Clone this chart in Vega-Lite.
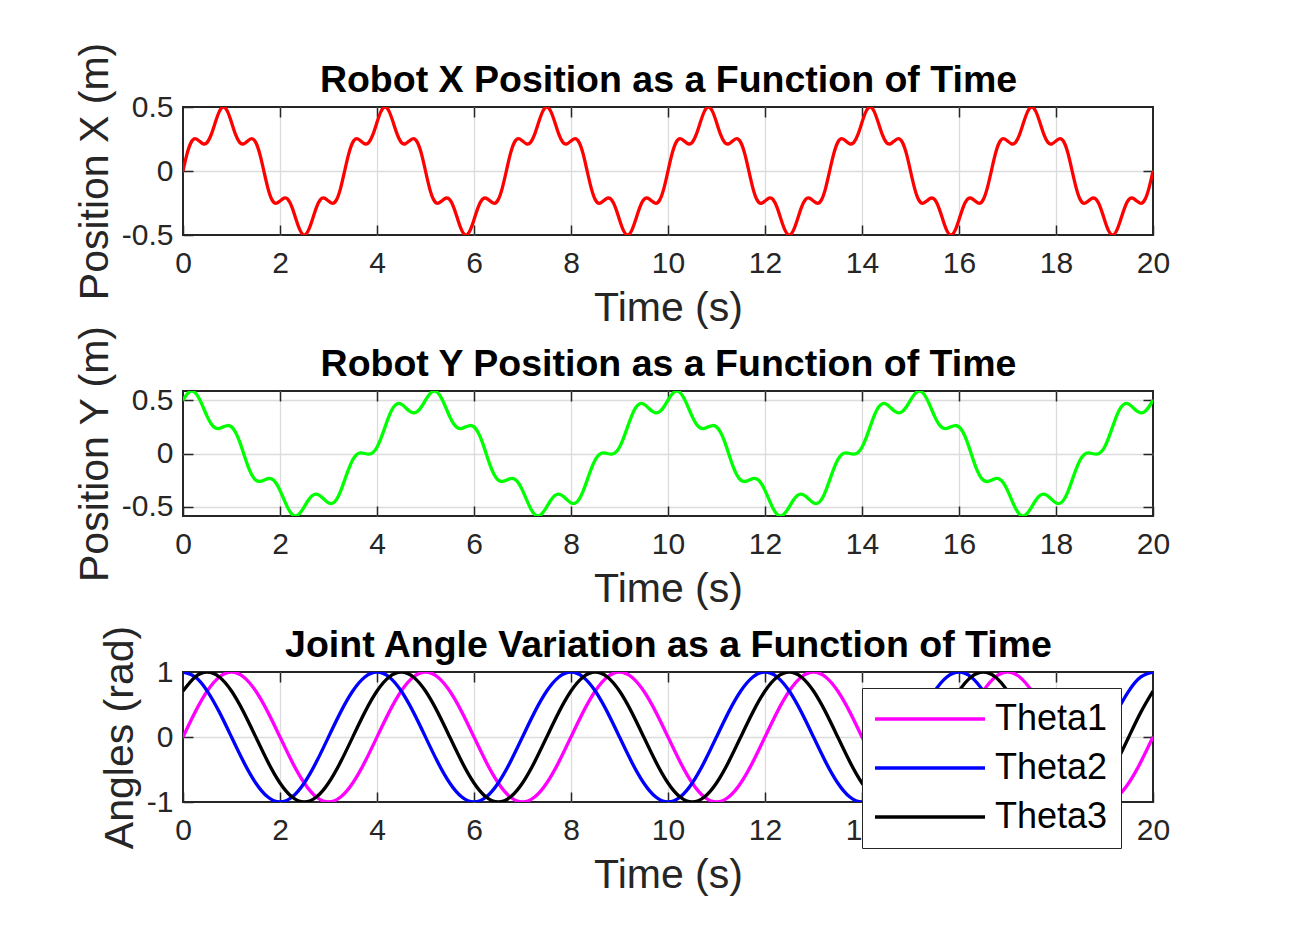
{
  "$schema": "https://vega.github.io/schema/vega-lite/v6.json",
  "background": "white",
  "padding": {"left": 73, "top": 41, "right": 10, "bottom": 10},
  "bounds": "flush",
  "spacing": 156,
  "config": {
    "font": "Liberation Sans",
    "view": {"stroke": "#262626", "strokeWidth": 2},
    "axis": {
      "labelFont": "Liberation Sans", "labelFontSize": 30, "labelColor": "#262626",
      "titleFont": "Liberation Sans", "titleFontSize": 41, "titleFontWeight": "normal", "titleColor": "#262626",
      "domain": false, "tickColor": "#262626", "tickSize": -10, "tickWidth": 1.5,
      "gridColor": "#dcdcdc", "gridWidth": 1.3, "gridOpacity": 1,
      "labelFlush": false, "labelOverlap": false, "labelBound": false, "titleLimit": 2000
    },
    "axisX": {"labelPadding": 23, "titlePadding": 10},
    "axisY": {"labelPadding": 20, "titlePadding": 5}
  },
  "datasets": {
    "pos": [
{"t":0,"x":0,"y":0.5},{"t":0.083,"x":0.1333,"y":0.556},{"t":0.167,"x":0.2236,"y":0.5842},{"t":0.25,"x":0.2523,"y":0.5706},{"t":0.333,"x":0.2351,"y":0.5156},{"t":0.417,"x":0.2121,"y":0.433},{"t":0.5,"x":0.2236,"y":0.3457},{"t":0.583,"x":0.2857,"y":0.2765},{"t":0.667,"x":0.3804,"y":0.2395},{"t":0.75,"x":0.4658,"y":0.2351},{"t":0.833,"x":0.5,"y":0.25},{"t":0.917,"x":0.4658,"y":0.2622},
{"t":1,"x":0.3804,"y":0.2496},{"t":1.083,"x":0.2857,"y":0.1991},{"t":1.167,"x":0.2236,"y":0.111},{"t":1.25,"x":0.2121,"y":0},{"t":1.333,"x":0.2351,"y":-0.111},{"t":1.417,"x":0.2523,"y":-0.1991},{"t":1.5,"x":0.2236,"y":-0.2496},{"t":1.583,"x":0.1333,"y":-0.2622},{"t":1.667,"x":0,"y":-0.25},{"t":1.75,"x":-0.1333,"y":-0.2351},{"t":1.833,"x":-0.2236,"y":-0.2395},{"t":1.917,"x":-0.2523,"y":-0.2765},
{"t":2,"x":-0.2351,"y":-0.3457},{"t":2.083,"x":-0.2121,"y":-0.433},{"t":2.167,"x":-0.2236,"y":-0.5156},{"t":2.25,"x":-0.2857,"y":-0.5706},{"t":2.333,"x":-0.3804,"y":-0.5842},{"t":2.417,"x":-0.4658,"y":-0.556},{"t":2.5,"x":-0.5,"y":-0.5},{"t":2.583,"x":-0.4658,"y":-0.4385},{"t":2.667,"x":-0.3804,"y":-0.394},{"t":2.75,"x":-0.2857,"y":-0.3804},{"t":2.833,"x":-0.2236,"y":-0.398},{"t":2.917,"x":-0.2121,"y":-0.433},
{"t":3,"x":-0.2351,"y":-0.4633},{"t":3.083,"x":-0.2523,"y":-0.4667},{"t":3.167,"x":-0.2236,"y":-0.4297},{"t":3.25,"x":-0.1333,"y":-0.3527},{"t":3.333,"x":0,"y":-0.25},{"t":3.417,"x":0.1333,"y":-0.1446},{"t":3.5,"x":0.2236,"y":-0.0594},{"t":3.583,"x":0.2523,"y":-0.0089},{"t":3.667,"x":0.2351,"y":0.0065},{"t":3.75,"x":0.2121,"y":0},{"t":3.833,"x":0.2236,"y":-0.0065},{"t":3.917,"x":0.2857,"y":0.0089},
{"t":4,"x":0.3804,"y":0.0594},{"t":4.083,"x":0.4658,"y":0.1446},{"t":4.167,"x":0.5,"y":0.25},{"t":4.25,"x":0.4658,"y":0.3527},{"t":4.333,"x":0.3804,"y":0.4297},{"t":4.417,"x":0.2857,"y":0.4667},{"t":4.5,"x":0.2236,"y":0.4633},{"t":4.583,"x":0.2121,"y":0.433},{"t":4.667,"x":0.2351,"y":0.398},{"t":4.75,"x":0.2523,"y":0.3804},{"t":4.833,"x":0.2236,"y":0.394},{"t":4.917,"x":0.1333,"y":0.4385},
{"t":5,"x":0,"y":0.5},{"t":5.083,"x":-0.1333,"y":0.556},{"t":5.167,"x":-0.2236,"y":0.5842},{"t":5.25,"x":-0.2523,"y":0.5706},{"t":5.333,"x":-0.2351,"y":0.5156},{"t":5.417,"x":-0.2121,"y":0.433},{"t":5.5,"x":-0.2236,"y":0.3457},{"t":5.583,"x":-0.2857,"y":0.2765},{"t":5.667,"x":-0.3804,"y":0.2395},{"t":5.75,"x":-0.4658,"y":0.2351},{"t":5.833,"x":-0.5,"y":0.25},{"t":5.917,"x":-0.4658,"y":0.2622},
{"t":6,"x":-0.3804,"y":0.2496},{"t":6.083,"x":-0.2857,"y":0.1991},{"t":6.167,"x":-0.2236,"y":0.111},{"t":6.25,"x":-0.2121,"y":0},{"t":6.333,"x":-0.2351,"y":-0.111},{"t":6.417,"x":-0.2523,"y":-0.1991},{"t":6.5,"x":-0.2236,"y":-0.2496},{"t":6.583,"x":-0.1333,"y":-0.2622},{"t":6.667,"x":0,"y":-0.25},{"t":6.75,"x":0.1333,"y":-0.2351},{"t":6.833,"x":0.2236,"y":-0.2395},{"t":6.917,"x":0.2523,"y":-0.2765},
{"t":7,"x":0.2351,"y":-0.3457},{"t":7.083,"x":0.2121,"y":-0.433},{"t":7.167,"x":0.2236,"y":-0.5156},{"t":7.25,"x":0.2857,"y":-0.5706},{"t":7.333,"x":0.3804,"y":-0.5842},{"t":7.417,"x":0.4658,"y":-0.556},{"t":7.5,"x":0.5,"y":-0.5},{"t":7.583,"x":0.4658,"y":-0.4385},{"t":7.667,"x":0.3804,"y":-0.394},{"t":7.75,"x":0.2857,"y":-0.3804},{"t":7.833,"x":0.2236,"y":-0.398},{"t":7.917,"x":0.2121,"y":-0.433},
{"t":8,"x":0.2351,"y":-0.4633},{"t":8.083,"x":0.2523,"y":-0.4667},{"t":8.167,"x":0.2236,"y":-0.4297},{"t":8.25,"x":0.1333,"y":-0.3527},{"t":8.333,"x":0,"y":-0.25},{"t":8.417,"x":-0.1333,"y":-0.1446},{"t":8.5,"x":-0.2236,"y":-0.0594},{"t":8.583,"x":-0.2523,"y":-0.0089},{"t":8.667,"x":-0.2351,"y":0.0065},{"t":8.75,"x":-0.2121,"y":0},{"t":8.833,"x":-0.2236,"y":-0.0065},{"t":8.917,"x":-0.2857,"y":0.0089},
{"t":9,"x":-0.3804,"y":0.0594},{"t":9.083,"x":-0.4658,"y":0.1446},{"t":9.167,"x":-0.5,"y":0.25},{"t":9.25,"x":-0.4658,"y":0.3527},{"t":9.333,"x":-0.3804,"y":0.4297},{"t":9.417,"x":-0.2857,"y":0.4667},{"t":9.5,"x":-0.2236,"y":0.4633},{"t":9.583,"x":-0.2121,"y":0.433},{"t":9.667,"x":-0.2351,"y":0.398},{"t":9.75,"x":-0.2523,"y":0.3804},{"t":9.833,"x":-0.2236,"y":0.394},{"t":9.917,"x":-0.1333,"y":0.4385},
{"t":10,"x":0,"y":0.5},{"t":10.083,"x":0.1333,"y":0.556},{"t":10.167,"x":0.2236,"y":0.5842},{"t":10.25,"x":0.2523,"y":0.5706},{"t":10.333,"x":0.2351,"y":0.5156},{"t":10.417,"x":0.2121,"y":0.433},{"t":10.5,"x":0.2236,"y":0.3457},{"t":10.583,"x":0.2857,"y":0.2765},{"t":10.667,"x":0.3804,"y":0.2395},{"t":10.75,"x":0.4658,"y":0.2351},{"t":10.833,"x":0.5,"y":0.25},{"t":10.917,"x":0.4658,"y":0.2622},
{"t":11,"x":0.3804,"y":0.2496},{"t":11.083,"x":0.2857,"y":0.1991},{"t":11.167,"x":0.2236,"y":0.111},{"t":11.25,"x":0.2121,"y":0},{"t":11.333,"x":0.2351,"y":-0.111},{"t":11.417,"x":0.2523,"y":-0.1991},{"t":11.5,"x":0.2236,"y":-0.2496},{"t":11.583,"x":0.1333,"y":-0.2622},{"t":11.667,"x":0,"y":-0.25},{"t":11.75,"x":-0.1333,"y":-0.2351},{"t":11.833,"x":-0.2236,"y":-0.2395},{"t":11.917,"x":-0.2523,"y":-0.2765},
{"t":12,"x":-0.2351,"y":-0.3457},{"t":12.083,"x":-0.2121,"y":-0.433},{"t":12.167,"x":-0.2236,"y":-0.5156},{"t":12.25,"x":-0.2857,"y":-0.5706},{"t":12.333,"x":-0.3804,"y":-0.5842},{"t":12.417,"x":-0.4658,"y":-0.556},{"t":12.5,"x":-0.5,"y":-0.5},{"t":12.583,"x":-0.4658,"y":-0.4385},{"t":12.667,"x":-0.3804,"y":-0.394},{"t":12.75,"x":-0.2857,"y":-0.3804},{"t":12.833,"x":-0.2236,"y":-0.398},{"t":12.917,"x":-0.2121,"y":-0.433},
{"t":13,"x":-0.2351,"y":-0.4633},{"t":13.083,"x":-0.2523,"y":-0.4667},{"t":13.167,"x":-0.2236,"y":-0.4297},{"t":13.25,"x":-0.1333,"y":-0.3527},{"t":13.333,"x":0,"y":-0.25},{"t":13.417,"x":0.1333,"y":-0.1446},{"t":13.5,"x":0.2236,"y":-0.0594},{"t":13.583,"x":0.2523,"y":-0.0089},{"t":13.667,"x":0.2351,"y":0.0065},{"t":13.75,"x":0.2121,"y":0},{"t":13.833,"x":0.2236,"y":-0.0065},{"t":13.917,"x":0.2857,"y":0.0089},
{"t":14,"x":0.3804,"y":0.0594},{"t":14.083,"x":0.4658,"y":0.1446},{"t":14.167,"x":0.5,"y":0.25},{"t":14.25,"x":0.4658,"y":0.3527},{"t":14.333,"x":0.3804,"y":0.4297},{"t":14.417,"x":0.2857,"y":0.4667},{"t":14.5,"x":0.2236,"y":0.4633},{"t":14.583,"x":0.2121,"y":0.433},{"t":14.667,"x":0.2351,"y":0.398},{"t":14.75,"x":0.2523,"y":0.3804},{"t":14.833,"x":0.2236,"y":0.394},{"t":14.917,"x":0.1333,"y":0.4385},
{"t":15,"x":0,"y":0.5},{"t":15.083,"x":-0.1333,"y":0.556},{"t":15.167,"x":-0.2236,"y":0.5842},{"t":15.25,"x":-0.2523,"y":0.5706},{"t":15.333,"x":-0.2351,"y":0.5156},{"t":15.417,"x":-0.2121,"y":0.433},{"t":15.5,"x":-0.2236,"y":0.3457},{"t":15.583,"x":-0.2857,"y":0.2765},{"t":15.667,"x":-0.3804,"y":0.2395},{"t":15.75,"x":-0.4658,"y":0.2351},{"t":15.833,"x":-0.5,"y":0.25},{"t":15.917,"x":-0.4658,"y":0.2622},
{"t":16,"x":-0.3804,"y":0.2496},{"t":16.083,"x":-0.2857,"y":0.1991},{"t":16.167,"x":-0.2236,"y":0.111},{"t":16.25,"x":-0.2121,"y":0},{"t":16.333,"x":-0.2351,"y":-0.111},{"t":16.417,"x":-0.2523,"y":-0.1991},{"t":16.5,"x":-0.2236,"y":-0.2496},{"t":16.583,"x":-0.1333,"y":-0.2622},{"t":16.667,"x":0,"y":-0.25},{"t":16.75,"x":0.1333,"y":-0.2351},{"t":16.833,"x":0.2236,"y":-0.2395},{"t":16.917,"x":0.2523,"y":-0.2765},
{"t":17,"x":0.2351,"y":-0.3457},{"t":17.083,"x":0.2121,"y":-0.433},{"t":17.167,"x":0.2236,"y":-0.5156},{"t":17.25,"x":0.2857,"y":-0.5706},{"t":17.333,"x":0.3804,"y":-0.5842},{"t":17.417,"x":0.4658,"y":-0.556},{"t":17.5,"x":0.5,"y":-0.5},{"t":17.583,"x":0.4658,"y":-0.4385},{"t":17.667,"x":0.3804,"y":-0.394},{"t":17.75,"x":0.2857,"y":-0.3804},{"t":17.833,"x":0.2236,"y":-0.398},{"t":17.917,"x":0.2121,"y":-0.433},
{"t":18,"x":0.2351,"y":-0.4633},{"t":18.083,"x":0.2523,"y":-0.4667},{"t":18.167,"x":0.2236,"y":-0.4297},{"t":18.25,"x":0.1333,"y":-0.3527},{"t":18.333,"x":0,"y":-0.25},{"t":18.417,"x":-0.1333,"y":-0.1446},{"t":18.5,"x":-0.2236,"y":-0.0594},{"t":18.583,"x":-0.2523,"y":-0.0089},{"t":18.667,"x":-0.2351,"y":0.0065},{"t":18.75,"x":-0.2121,"y":0},{"t":18.833,"x":-0.2236,"y":-0.0065},{"t":18.917,"x":-0.2857,"y":0.0089},
{"t":19,"x":-0.3804,"y":0.0594},{"t":19.083,"x":-0.4658,"y":0.1446},{"t":19.167,"x":-0.5,"y":0.25},{"t":19.25,"x":-0.4658,"y":0.3527},{"t":19.333,"x":-0.3804,"y":0.4297},{"t":19.417,"x":-0.2857,"y":0.4667},{"t":19.5,"x":-0.2236,"y":0.4633},{"t":19.583,"x":-0.2121,"y":0.433},{"t":19.667,"x":-0.2351,"y":0.398},{"t":19.75,"x":-0.2523,"y":0.3804},{"t":19.833,"x":-0.2236,"y":0.394},{"t":19.917,"x":-0.1333,"y":0.4385},
{"t":20,"x":0,"y":0.5}
    ],
    "ang": [
{"t":0,"j":"Theta1","a":0},{"t":0.25,"j":"Theta1","a":0.3827},{"t":0.5,"j":"Theta1","a":0.7071},{"t":0.75,"j":"Theta1","a":0.9239},{"t":1,"j":"Theta1","a":1},{"t":1.25,"j":"Theta1","a":0.9239},{"t":1.5,"j":"Theta1","a":0.7071},{"t":1.75,"j":"Theta1","a":0.3827},{"t":2,"j":"Theta1","a":0},{"t":2.25,"j":"Theta1","a":-0.3827},{"t":2.5,"j":"Theta1","a":-0.7071},{"t":2.75,"j":"Theta1","a":-0.9239},{"t":3,"j":"Theta1","a":-1},{"t":3.25,"j":"Theta1","a":-0.9239},{"t":3.5,"j":"Theta1","a":-0.7071},{"t":3.75,"j":"Theta1","a":-0.3827},
{"t":4,"j":"Theta1","a":0},{"t":4.25,"j":"Theta1","a":0.3827},{"t":4.5,"j":"Theta1","a":0.7071},{"t":4.75,"j":"Theta1","a":0.9239},{"t":5,"j":"Theta1","a":1},{"t":5.25,"j":"Theta1","a":0.9239},{"t":5.5,"j":"Theta1","a":0.7071},{"t":5.75,"j":"Theta1","a":0.3827},{"t":6,"j":"Theta1","a":0},{"t":6.25,"j":"Theta1","a":-0.3827},{"t":6.5,"j":"Theta1","a":-0.7071},{"t":6.75,"j":"Theta1","a":-0.9239},{"t":7,"j":"Theta1","a":-1},{"t":7.25,"j":"Theta1","a":-0.9239},{"t":7.5,"j":"Theta1","a":-0.7071},{"t":7.75,"j":"Theta1","a":-0.3827},
{"t":8,"j":"Theta1","a":0},{"t":8.25,"j":"Theta1","a":0.3827},{"t":8.5,"j":"Theta1","a":0.7071},{"t":8.75,"j":"Theta1","a":0.9239},{"t":9,"j":"Theta1","a":1},{"t":9.25,"j":"Theta1","a":0.9239},{"t":9.5,"j":"Theta1","a":0.7071},{"t":9.75,"j":"Theta1","a":0.3827},{"t":10,"j":"Theta1","a":0},{"t":10.25,"j":"Theta1","a":-0.3827},{"t":10.5,"j":"Theta1","a":-0.7071},{"t":10.75,"j":"Theta1","a":-0.9239},{"t":11,"j":"Theta1","a":-1},{"t":11.25,"j":"Theta1","a":-0.9239},{"t":11.5,"j":"Theta1","a":-0.7071},{"t":11.75,"j":"Theta1","a":-0.3827},
{"t":12,"j":"Theta1","a":0},{"t":12.25,"j":"Theta1","a":0.3827},{"t":12.5,"j":"Theta1","a":0.7071},{"t":12.75,"j":"Theta1","a":0.9239},{"t":13,"j":"Theta1","a":1},{"t":13.25,"j":"Theta1","a":0.9239},{"t":13.5,"j":"Theta1","a":0.7071},{"t":13.75,"j":"Theta1","a":0.3827},{"t":14,"j":"Theta1","a":0},{"t":14.25,"j":"Theta1","a":-0.3827},{"t":14.5,"j":"Theta1","a":-0.7071},{"t":14.75,"j":"Theta1","a":-0.9239},{"t":15,"j":"Theta1","a":-1},{"t":15.25,"j":"Theta1","a":-0.9239},{"t":15.5,"j":"Theta1","a":-0.7071},{"t":15.75,"j":"Theta1","a":-0.3827},
{"t":16,"j":"Theta1","a":0},{"t":16.25,"j":"Theta1","a":0.3827},{"t":16.5,"j":"Theta1","a":0.7071},{"t":16.75,"j":"Theta1","a":0.9239},{"t":17,"j":"Theta1","a":1},{"t":17.25,"j":"Theta1","a":0.9239},{"t":17.5,"j":"Theta1","a":0.7071},{"t":17.75,"j":"Theta1","a":0.3827},{"t":18,"j":"Theta1","a":0},{"t":18.25,"j":"Theta1","a":-0.3827},{"t":18.5,"j":"Theta1","a":-0.7071},{"t":18.75,"j":"Theta1","a":-0.9239},{"t":19,"j":"Theta1","a":-1},{"t":19.25,"j":"Theta1","a":-0.9239},{"t":19.5,"j":"Theta1","a":-0.7071},{"t":19.75,"j":"Theta1","a":-0.3827},
{"t":20,"j":"Theta1","a":0},
{"t":0,"j":"Theta2","a":1},{"t":0.25,"j":"Theta2","a":0.9239},{"t":0.5,"j":"Theta2","a":0.7071},{"t":0.75,"j":"Theta2","a":0.3827},{"t":1,"j":"Theta2","a":0},{"t":1.25,"j":"Theta2","a":-0.3827},{"t":1.5,"j":"Theta2","a":-0.7071},{"t":1.75,"j":"Theta2","a":-0.9239},{"t":2,"j":"Theta2","a":-1},{"t":2.25,"j":"Theta2","a":-0.9239},{"t":2.5,"j":"Theta2","a":-0.7071},{"t":2.75,"j":"Theta2","a":-0.3827},{"t":3,"j":"Theta2","a":0},{"t":3.25,"j":"Theta2","a":0.3827},{"t":3.5,"j":"Theta2","a":0.7071},{"t":3.75,"j":"Theta2","a":0.9239},
{"t":4,"j":"Theta2","a":1},{"t":4.25,"j":"Theta2","a":0.9239},{"t":4.5,"j":"Theta2","a":0.7071},{"t":4.75,"j":"Theta2","a":0.3827},{"t":5,"j":"Theta2","a":0},{"t":5.25,"j":"Theta2","a":-0.3827},{"t":5.5,"j":"Theta2","a":-0.7071},{"t":5.75,"j":"Theta2","a":-0.9239},{"t":6,"j":"Theta2","a":-1},{"t":6.25,"j":"Theta2","a":-0.9239},{"t":6.5,"j":"Theta2","a":-0.7071},{"t":6.75,"j":"Theta2","a":-0.3827},{"t":7,"j":"Theta2","a":0},{"t":7.25,"j":"Theta2","a":0.3827},{"t":7.5,"j":"Theta2","a":0.7071},{"t":7.75,"j":"Theta2","a":0.9239},
{"t":8,"j":"Theta2","a":1},{"t":8.25,"j":"Theta2","a":0.9239},{"t":8.5,"j":"Theta2","a":0.7071},{"t":8.75,"j":"Theta2","a":0.3827},{"t":9,"j":"Theta2","a":0},{"t":9.25,"j":"Theta2","a":-0.3827},{"t":9.5,"j":"Theta2","a":-0.7071},{"t":9.75,"j":"Theta2","a":-0.9239},{"t":10,"j":"Theta2","a":-1},{"t":10.25,"j":"Theta2","a":-0.9239},{"t":10.5,"j":"Theta2","a":-0.7071},{"t":10.75,"j":"Theta2","a":-0.3827},{"t":11,"j":"Theta2","a":0},{"t":11.25,"j":"Theta2","a":0.3827},{"t":11.5,"j":"Theta2","a":0.7071},{"t":11.75,"j":"Theta2","a":0.9239},
{"t":12,"j":"Theta2","a":1},{"t":12.25,"j":"Theta2","a":0.9239},{"t":12.5,"j":"Theta2","a":0.7071},{"t":12.75,"j":"Theta2","a":0.3827},{"t":13,"j":"Theta2","a":0},{"t":13.25,"j":"Theta2","a":-0.3827},{"t":13.5,"j":"Theta2","a":-0.7071},{"t":13.75,"j":"Theta2","a":-0.9239},{"t":14,"j":"Theta2","a":-1},{"t":14.25,"j":"Theta2","a":-0.9239},{"t":14.5,"j":"Theta2","a":-0.7071},{"t":14.75,"j":"Theta2","a":-0.3827},{"t":15,"j":"Theta2","a":0},{"t":15.25,"j":"Theta2","a":0.3827},{"t":15.5,"j":"Theta2","a":0.7071},{"t":15.75,"j":"Theta2","a":0.9239},
{"t":16,"j":"Theta2","a":1},{"t":16.25,"j":"Theta2","a":0.9239},{"t":16.5,"j":"Theta2","a":0.7071},{"t":16.75,"j":"Theta2","a":0.3827},{"t":17,"j":"Theta2","a":0},{"t":17.25,"j":"Theta2","a":-0.3827},{"t":17.5,"j":"Theta2","a":-0.7071},{"t":17.75,"j":"Theta2","a":-0.9239},{"t":18,"j":"Theta2","a":-1},{"t":18.25,"j":"Theta2","a":-0.9239},{"t":18.5,"j":"Theta2","a":-0.7071},{"t":18.75,"j":"Theta2","a":-0.3827},{"t":19,"j":"Theta2","a":0},{"t":19.25,"j":"Theta2","a":0.3827},{"t":19.5,"j":"Theta2","a":0.7071},{"t":19.75,"j":"Theta2","a":0.9239},
{"t":20,"j":"Theta2","a":1},
{"t":0,"j":"Theta3","a":0.7071},{"t":0.25,"j":"Theta3","a":0.9239},{"t":0.5,"j":"Theta3","a":1},{"t":0.75,"j":"Theta3","a":0.9239},{"t":1,"j":"Theta3","a":0.7071},{"t":1.25,"j":"Theta3","a":0.3827},{"t":1.5,"j":"Theta3","a":0},{"t":1.75,"j":"Theta3","a":-0.3827},{"t":2,"j":"Theta3","a":-0.7071},{"t":2.25,"j":"Theta3","a":-0.9239},{"t":2.5,"j":"Theta3","a":-1},{"t":2.75,"j":"Theta3","a":-0.9239},{"t":3,"j":"Theta3","a":-0.7071},{"t":3.25,"j":"Theta3","a":-0.3827},{"t":3.5,"j":"Theta3","a":0},{"t":3.75,"j":"Theta3","a":0.3827},
{"t":4,"j":"Theta3","a":0.7071},{"t":4.25,"j":"Theta3","a":0.9239},{"t":4.5,"j":"Theta3","a":1},{"t":4.75,"j":"Theta3","a":0.9239},{"t":5,"j":"Theta3","a":0.7071},{"t":5.25,"j":"Theta3","a":0.3827},{"t":5.5,"j":"Theta3","a":0},{"t":5.75,"j":"Theta3","a":-0.3827},{"t":6,"j":"Theta3","a":-0.7071},{"t":6.25,"j":"Theta3","a":-0.9239},{"t":6.5,"j":"Theta3","a":-1},{"t":6.75,"j":"Theta3","a":-0.9239},{"t":7,"j":"Theta3","a":-0.7071},{"t":7.25,"j":"Theta3","a":-0.3827},{"t":7.5,"j":"Theta3","a":0},{"t":7.75,"j":"Theta3","a":0.3827},
{"t":8,"j":"Theta3","a":0.7071},{"t":8.25,"j":"Theta3","a":0.9239},{"t":8.5,"j":"Theta3","a":1},{"t":8.75,"j":"Theta3","a":0.9239},{"t":9,"j":"Theta3","a":0.7071},{"t":9.25,"j":"Theta3","a":0.3827},{"t":9.5,"j":"Theta3","a":0},{"t":9.75,"j":"Theta3","a":-0.3827},{"t":10,"j":"Theta3","a":-0.7071},{"t":10.25,"j":"Theta3","a":-0.9239},{"t":10.5,"j":"Theta3","a":-1},{"t":10.75,"j":"Theta3","a":-0.9239},{"t":11,"j":"Theta3","a":-0.7071},{"t":11.25,"j":"Theta3","a":-0.3827},{"t":11.5,"j":"Theta3","a":0},{"t":11.75,"j":"Theta3","a":0.3827},
{"t":12,"j":"Theta3","a":0.7071},{"t":12.25,"j":"Theta3","a":0.9239},{"t":12.5,"j":"Theta3","a":1},{"t":12.75,"j":"Theta3","a":0.9239},{"t":13,"j":"Theta3","a":0.7071},{"t":13.25,"j":"Theta3","a":0.3827},{"t":13.5,"j":"Theta3","a":0},{"t":13.75,"j":"Theta3","a":-0.3827},{"t":14,"j":"Theta3","a":-0.7071},{"t":14.25,"j":"Theta3","a":-0.9239},{"t":14.5,"j":"Theta3","a":-1},{"t":14.75,"j":"Theta3","a":-0.9239},{"t":15,"j":"Theta3","a":-0.7071},{"t":15.25,"j":"Theta3","a":-0.3827},{"t":15.5,"j":"Theta3","a":0},{"t":15.75,"j":"Theta3","a":0.3827},
{"t":16,"j":"Theta3","a":0.7071},{"t":16.25,"j":"Theta3","a":0.9239},{"t":16.5,"j":"Theta3","a":1},{"t":16.75,"j":"Theta3","a":0.9239},{"t":17,"j":"Theta3","a":0.7071},{"t":17.25,"j":"Theta3","a":0.3827},{"t":17.5,"j":"Theta3","a":0},{"t":17.75,"j":"Theta3","a":-0.3827},{"t":18,"j":"Theta3","a":-0.7071},{"t":18.25,"j":"Theta3","a":-0.9239},{"t":18.5,"j":"Theta3","a":-1},{"t":18.75,"j":"Theta3","a":-0.9239},{"t":19,"j":"Theta3","a":-0.7071},{"t":19.25,"j":"Theta3","a":-0.3827},{"t":19.5,"j":"Theta3","a":0},{"t":19.75,"j":"Theta3","a":0.3827},
{"t":20,"j":"Theta3","a":0.7071}
    ]
  },
  "vconcat": [
    {
      "width": 970, "height": 128,
      "data": {"name": "pos"},
      "layer": [
        {
          "mark": {"type": "line", "color": "#ff0000", "strokeWidth": 3.3, "interpolate": "natural", "clip": true},
          "encoding": {
            "x": {"field": "t", "type": "quantitative", "scale": {"domain": [0, 20], "nice": false, "zero": false},
                  "axis": {"title": "Time (s)", "values": [0,2,4,6,8,10,12,14,16,18,20], "grid": false}},
            "y": {"field": "x", "type": "quantitative", "scale": {"domain": [-0.5, 0.5], "nice": false, "zero": false},
                  "axis": {"title": "Position X (m)", "values": [-0.5, 0, 0.5], "grid": false, "labelExpr": "datum.value < 0 ? '-' + (-datum.value) : '' + datum.value"}}
          }
        },
        {
          "mark": {"type": "line", "opacity": 0},
          "encoding": {
            "x": {"field": "t", "type": "quantitative",
                  "axis": {"orient": "top", "values": [2,4,6,8,10,12,14,16,18], "grid": true, "labels": false,
                           "title": "Robot X Position as a Function of Time", "titleFontWeight": "bold", "titleFontSize": 37.5, "titleColor": "#000000", "titlePadding": 7}},
            "y": {"field": "x", "type": "quantitative",
                  "axis": {"orient": "right", "values": [0], "grid": true, "labels": false, "title": null}}
          }
        }
      ],
      "resolve": {"axis": {"x": "independent", "y": "independent"}}
    },
    {
      "width": 970, "height": 125,
      "data": {"name": "pos"},
      "layer": [
        {
          "mark": {"type": "line", "color": "#00ff00", "strokeWidth": 3.3, "interpolate": "natural", "clip": true},
          "encoding": {
            "x": {"field": "t", "type": "quantitative", "scale": {"domain": [0, 20], "nice": false, "zero": false},
                  "axis": {"title": "Time (s)", "values": [0,2,4,6,8,10,12,14,16,18,20], "grid": false}},
            "y": {"field": "y", "type": "quantitative", "scale": {"domain": [-0.586, 0.586], "nice": false, "zero": false},
                  "axis": {"title": "Position Y (m)", "values": [-0.5, 0, 0.5], "grid": false, "labelExpr": "datum.value < 0 ? '-' + (-datum.value) : '' + datum.value"}}
          }
        },
        {
          "mark": {"type": "line", "opacity": 0},
          "encoding": {
            "x": {"field": "t", "type": "quantitative",
                  "axis": {"orient": "top", "values": [2,4,6,8,10,12,14,16,18], "grid": true, "labels": false,
                           "title": "Robot Y Position as a Function of Time", "titleFontWeight": "bold", "titleFontSize": 37.5, "titleColor": "#000000", "titlePadding": 7}},
            "y": {"field": "y", "type": "quantitative",
                  "axis": {"orient": "right", "values": [-0.5, 0, 0.5], "grid": true, "labels": false, "title": null}}
          }
        }
      ],
      "resolve": {"axis": {"x": "independent", "y": "independent"}}
    },
    {
      "width": 970, "height": 130,
      "data": {"name": "ang"},
      "layer": [
        {
          "mark": {"type": "line", "strokeWidth": 3.3, "interpolate": "natural", "clip": true},
          "encoding": {
            "x": {"field": "t", "type": "quantitative", "scale": {"domain": [0, 20], "nice": false, "zero": false},
                  "axis": {"title": "Time (s)", "values": [0,2,4,6,8,10,12,14,16,18,20], "grid": false}},
            "y": {"field": "a", "type": "quantitative", "scale": {"domain": [-1, 1], "nice": false, "zero": false},
                  "axis": {"title": "Angles (rad)", "values": [-1, 0, 1], "grid": false, "labelExpr": "datum.value < 0 ? '-' + (-datum.value) : '' + datum.value"}},
            "color": {"field": "j", "type": "nominal",
                      "scale": {"domain": ["Theta1", "Theta2", "Theta3"], "range": ["#ff00ff", "#0000ff", "#000000"]},
                      "legend": {"title": null, "orient": "none", "legendX": 679, "legendY": 581,
                                 "symbolType": "M-5,0H5", "symbolSize": 484, "symbolStrokeWidth": 3.3,
                                 "symbolOffset": 37, "labelOffset": 47,
                                 "labelFont": "Liberation Sans", "labelFontSize": 36, "labelColor": "#000000",
                                 "padding": 13, "rowPadding": 13, "fillColor": "#ffffff", "strokeColor": "#262626"}}
          }
        },
        {
          "mark": {"type": "line", "opacity": 0},
          "encoding": {
            "x": {"field": "t", "type": "quantitative",
                  "axis": {"orient": "top", "values": [2,4,6,8,10,12,14,16,18], "grid": true, "labels": false,
                           "title": "Joint Angle Variation as a Function of Time", "titleFontWeight": "bold", "titleFontSize": 37.5, "titleColor": "#000000", "titlePadding": 7}},
            "y": {"field": "a", "type": "quantitative",
                  "axis": {"orient": "right", "values": [0], "grid": true, "labels": false, "title": null}}
          }
        }
      ],
      "resolve": {"axis": {"x": "independent", "y": "independent"}}
    }
  ]
}
